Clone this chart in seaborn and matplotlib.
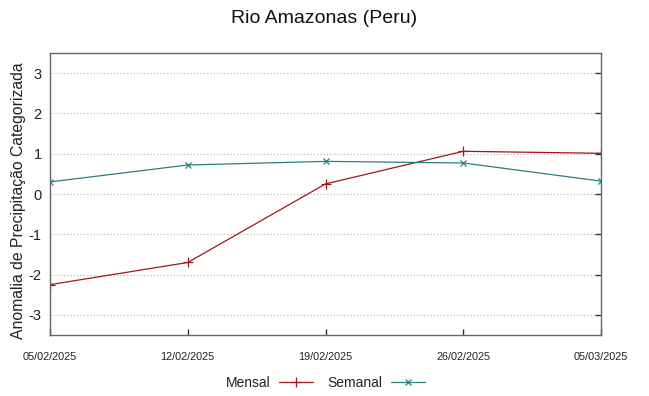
import matplotlib
matplotlib.use("Agg")
import matplotlib.pyplot as plt
import seaborn as sns
import pandas as pd

dates = ["2025-02-05", "2025-02-12", "2025-02-19", "2025-02-26", "2025-03-05"]
tick_labels = ["05/02/2025", "12/02/2025", "19/02/2025", "26/02/2025", "05/03/2025"]
mensal = [-2.25, -1.70, 0.25, 1.06, 1.01]
semanal = [0.30, 0.72, 0.81, 0.77, 0.32]

sns.set_theme(style="white")
plt.rcParams['font.family'] = ['Liberation Sans', 'DejaVu Sans']

df = pd.DataFrame({
    "data": pd.to_datetime(dates * 2),
    "valor": mensal + semanal,
    "serie": ["Mensal"] * 5 + ["Semanal"] * 5,
})

fig = plt.figure(figsize=(6.49, 3.96), dpi=100)
ax = fig.add_axes([50/649, 61/396, 551/649, 282/396])

red = "#a0161a"
teal = "#2a7f80"
sns.lineplot(data=df[df.serie == "Mensal"], x="data", y="valor", ax=ax, color=red,
             marker="+", markersize=6.5, markeredgewidth=0.9, markeredgecolor=red,
             linewidth=0.9, label="Mensal")
sns.lineplot(data=df[df.serie == "Semanal"], x="data", y="valor", ax=ax, color=teal,
             marker="x", markersize=4.5, markeredgewidth=0.9, markeredgecolor=teal,
             linewidth=0.9, label="Semanal")

xd = pd.to_datetime(dates)
ax.set_xlim(xd[0], xd[-1])
ax.set_xticks(xd)
ax.set_xticklabels(tick_labels, fontsize=7.8, color="#222222")
ax.set_ylim(-3.5, 3.5)
ax.set_yticks([-3, -2, -1, 0, 1, 2, 3])
ax.set_yticklabels(["-3", "-2", "-1", "0", "1", "2", "3"], fontsize=10.5, color="#222222")
ax.grid(axis="y", color="#b0b0b0", linestyle=(0, (1, 2)), linewidth=0.8)
ax.tick_params(axis="y", direction="in", length=4, width=1, color="#333333",
               left=False, right=True, pad=6)
ax.tick_params(axis="x", direction="in", length=4, width=1, color="#333333",
               bottom=True, top=False, pad=12)
for s in ax.spines.values():
    s.set_color("#666666")
    s.set_linewidth(1.0)

ax.set_xlabel("")
ax.set_ylabel("Anomalia de Precipitação Categorizada", fontsize=11.3, color="#222222")
ax.yaxis.set_label_coords(-0.044, 0.475)
fig.suptitle("Rio Amazonas (Peru)", fontsize=14, y=0.975, color="#111111")

ax.legend(loc="upper center", bbox_to_anchor=(0.5, -0.125), ncol=2, frameon=False,
          markerfirst=False, fontsize=10, handlelength=2.5, columnspacing=1.0,
          handletextpad=0.6, borderaxespad=0, labelcolor="#222222")

fig.savefig("out.png", dpi=100)
